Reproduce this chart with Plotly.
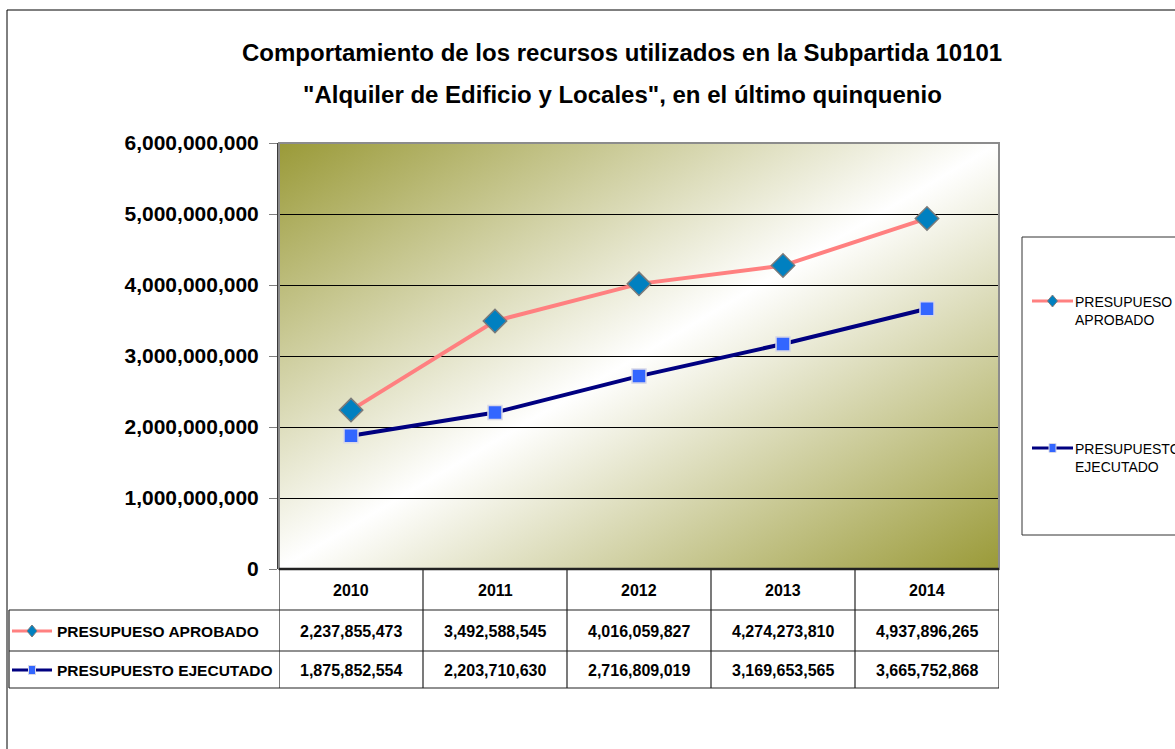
import base64
import plotly.graph_objects as go

# ---------------- data ----------------
years = ["2010", "2011", "2012", "2013", "2014"]
aprobado = [2237855473, 3492588545, 4016059827, 4274273810, 4937896265]
ejecutado = [1875852554, 2203710630, 2716809019, 3169653565, 3665752868]
series_names = ["PRESUPUESO APROBADO", "PRESUPUESTO EJECUTADO"]
legend_labels = ["PRESUPUESO<br>APROBADO", "PRESUPUESTO<br>EJECUTADO"]
y_ticks = [0, 1000000000, 2000000000, 3000000000, 4000000000, 5000000000, 6000000000]
title_lines = [
    "Comportamiento de los recursos utilizados en la Subpartida 10101",
    "\"Alquiler de Edificio y Locales\", en el último quinquenio",
]

# ---------------- styling ----------------
W, H = 1175, 749
FONT = "Liberation Sans Narrow, Arial Narrow, Liberation Sans, Arial, sans-serif"
PINK, NAVY = "#FF8080", "#000080"
DIAMOND_FILL, SQUARE_FILL = "#0080C0", "#3366FF"
OLIVE = "#9A9A38"


def fx(px):
    return px / W


def fy(py):
    return 1 - py / H


PL, PR, PT, PB = 279, 999, 143, 569  # plot area in pixels
ROW_Y = [631, 670]
HEADER_Y = 590

fig = go.Figure()
fig.add_trace(go.Scatter(
    x=years, y=aprobado, mode="lines+markers", name=series_names[0],
    line=dict(color=PINK, width=4),
    marker=dict(symbol="diamond", size=18, color=DIAMOND_FILL,
                line=dict(color="#7A7A7A", width=1.5)),
))
fig.add_trace(go.Scatter(
    x=years, y=ejecutado, mode="lines+markers", name=series_names[1],
    line=dict(color=NAVY, width=4),
    marker=dict(symbol="square", size=14, color=SQUARE_FILL,
                line=dict(color="#D8D8E8", width=1.5)),
))

# gradient background for the plot area
svg = (
    '<svg xmlns="http://www.w3.org/2000/svg" width="720" height="426" preserveAspectRatio="none">'
    '<defs><linearGradient id="g" x1="0" y1="0" x2="1" y2="1">'
    f'<stop offset="0" stop-color="{OLIVE}"/>'
    '<stop offset="0.5" stop-color="#FFFFFF"/>'
    f'<stop offset="1" stop-color="{OLIVE}"/>'
    '</linearGradient></defs>'
    '<rect width="720" height="426" fill="url(#g)"/></svg>'
)
src = "data:image/svg+xml;base64," + base64.b64encode(svg.encode()).decode()

shapes = []
line_col = "#222222"
# outer chart border
shapes.append(dict(type="rect", xref="paper", yref="paper", x0=fx(7), x1=fx(1195),
                   y0=fy(770), y1=fy(10), line=dict(color="black", width=1)))
# plot area border
shapes.append(dict(type="rect", xref="paper", yref="paper", x0=fx(PL), x1=fx(PR),
                   y0=fy(PB), y1=fy(PT), line=dict(color="#8C8C8C", width=2)))
# table horizontal lines
shapes.append(dict(type="line", xref="paper", yref="paper", x0=fx(PL), x1=fx(PR),
                   y0=fy(PB), y1=fy(PB), line=dict(color=line_col, width=2.5)))
for yy in [610, 651, 688]:
    shapes.append(dict(type="line", xref="paper", yref="paper", x0=fx(9), x1=fx(PR),
                       y0=fy(yy), y1=fy(yy), line=dict(color=line_col, width=1.2)))
# table vertical lines (column borders on category axis)
for i in range(len(years) + 1):
    shapes.append(dict(type="line", xref="x", yref="paper", x0=i - 0.5, x1=i - 0.5,
                       y0=fy(688), y1=fy(PB), line=dict(color=line_col, width=1.2)))
shapes.append(dict(type="line", xref="paper", yref="paper", x0=fx(9), x1=fx(9),
                   y0=fy(688), y1=fy(610), line=dict(color=line_col, width=1.2)))


def diamond(cx, cy, hw, hh, fill, edge):
    path = (f"M{fx(cx - hw)},{fy(cy)} L{fx(cx)},{fy(cy - hh)} "
            f"L{fx(cx + hw)},{fy(cy)} L{fx(cx)},{fy(cy + hh)} Z")
    return dict(type="path", xref="paper", yref="paper", path=path,
                fillcolor=fill, line=dict(color=edge, width=1))


def square(cx, cy, hw, hh, fill, edge):
    return dict(type="rect", xref="paper", yref="paper", x0=fx(cx - hw), x1=fx(cx + hw),
                y0=fy(cy + hh), y1=fy(cy - hh), fillcolor=fill, line=dict(color=edge, width=1))


def key(x0, x1, cy, idx, scale):
    color = [PINK, NAVY][idx]
    out = [dict(type="line", xref="paper", yref="paper", x0=fx(x0), x1=fx(x1),
                y0=fy(cy), y1=fy(cy), line=dict(color=color, width=3))]
    cx = (x0 + x1) / 2
    if idx == 0:
        out.append(diamond(cx, cy, 5 * scale, 6 * scale, DIAMOND_FILL, "#7A7A7A"))
    else:
        out.append(square(cx, cy, 3.5 * scale, 4.5 * scale, SQUARE_FILL, "#D8D8E8"))
    return out


# keys in table rows
shapes += key(12, 52, ROW_Y[0], 0, 1.0)
shapes += key(12, 52, ROW_Y[1], 1, 1.0)

# legend box
shapes.append(dict(type="rect", xref="paper", yref="paper", x0=fx(1022), x1=fx(1200),
                   y0=fy(535), y1=fy(237), line=dict(color="#333333", width=1)))
shapes += key(1032, 1073, 301, 0, 1.0)
shapes += key(1032, 1073, 448, 1, 1.0)

annotations = []
# title
for txt, yy in zip(title_lines, [53, 95]):
    annotations.append(dict(text=f"<b>{txt}</b>", xref="paper", yref="paper", x=fx(622), y=fy(yy),
                            xanchor="center", yanchor="middle", showarrow=False,
                            font=dict(family=FONT, size=24, color="black")))
# table header (category positions by index)
for i, yr in enumerate(years):
    annotations.append(dict(text=f"<b>{yr}</b>", xref="x", yref="paper", x=i, y=fy(HEADER_Y),
                            xanchor="center", yanchor="middle", showarrow=False,
                            font=dict(family=FONT, size=16, color="black")))
# table values
for vals, yy in zip([aprobado, ejecutado], ROW_Y):
    for i, v in enumerate(vals):
        annotations.append(dict(text=f"<b>{v:,}</b>", xref="x", yref="paper", x=i, y=fy(yy),
                                xanchor="center", yanchor="middle", showarrow=False,
                                font=dict(family=FONT, size=16, color="black")))
# row labels
for name, yy in zip(series_names, ROW_Y):
    annotations.append(dict(text=f"<b>{name}</b>", xref="paper", yref="paper", x=fx(55), y=fy(yy),
                            xanchor="left", yanchor="middle", showarrow=False,
                            font=dict(family=FONT, size=15.5, color="black")))
# legend labels
for lab, yy in zip(legend_labels, [311, 458]):
    annotations.append(dict(text=lab, xref="paper", yref="paper", x=fx(1073), y=fy(yy),
                            xanchor="left", yanchor="middle", showarrow=False, align="left",
                            font=dict(family=FONT, size=14, color="black")))

fig.update_layout(
    width=W, height=H,
    margin=dict(l=0, r=0, t=0, b=0, autoexpand=False),
    paper_bgcolor="white",
    plot_bgcolor="rgba(0,0,0,0)",
    showlegend=False,
    shapes=shapes,
    annotations=annotations,
    images=[dict(source=src, xref="paper", yref="paper", x=fx(PL), y=fy(PT),
                 sizex=fx(PR) - fx(PL), sizey=fy(PT) - fy(PB), sizing="stretch",
                 xanchor="left", yanchor="top", layer="below")],
    xaxis=dict(domain=[fx(PL), fx(PR)], type="category", range=[-0.5, len(years) - 0.5],
               showgrid=False, showticklabels=False, showline=False, zeroline=False,
               ticks="", fixedrange=True, automargin=False),
    yaxis=dict(domain=[fy(PB), fy(PT)], range=[0, 6000000000], tickvals=y_ticks,
               tickformat=",", showgrid=True, gridcolor="black", gridwidth=1,
               ticks="outside", ticklen=8, tickcolor="#808080", tickwidth=1,
               showline=True, linecolor="#3A3A3A", linewidth=2, zeroline=False,
               ticklabelstandoff=6, automargin=False,
               tickfont=dict(family=FONT, size=21, color="black", weight="bold"),
               fixedrange=True),
)

fig.write_html("out.html", config={"displayModeBar": False},
               post_script="document.body.style.margin='0';")
